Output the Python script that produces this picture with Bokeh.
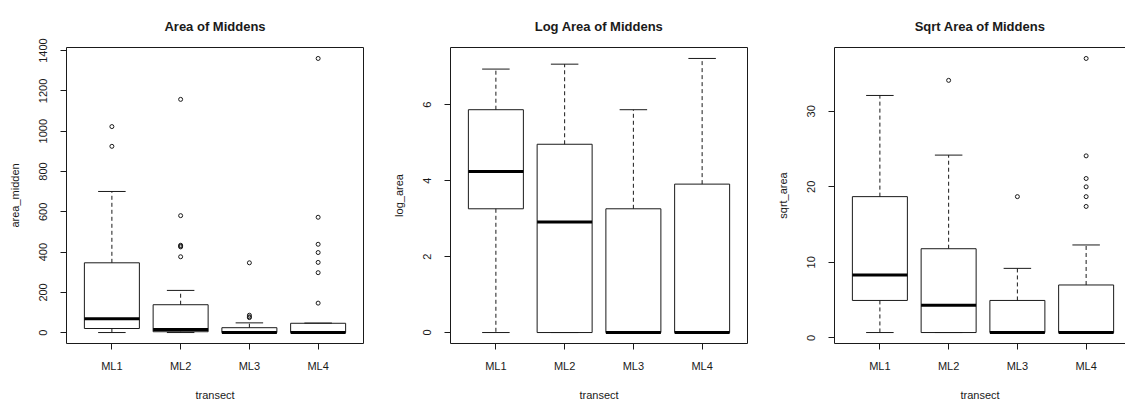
from bokeh.plotting import figure
from bokeh.layouts import row
from bokeh.models import FixedTicker, Range1d, LinearAxis
from bokeh.embed import file_html
from bokeh.resources import INLINE

transects = ["ML1", "ML2", "ML3", "ML4"]

# Area of middens (raw): whisker ends, quartiles, medians and outlying points
area_low = [1, 1, 1, 1]
area_q1 = [21, 5, 1, 1]
area_med = [69, 16, 1, 1]
area_q3 = [347, 139, 25, 47]
area_high = [701, 210, 49, 48]
area_out_group = [1, 1, 2, 2, 2, 2, 2, 2, 3, 3, 3, 3, 4, 4, 4, 4, 4, 4, 4]
area_out_value = [1023, 925, 1158, 581, 434, 430, 426, 377, 347, 87, 79, 75,
                  1361, 573, 439, 398, 349, 298, 147]
area_ticks = [0, 200, 400, 600, 800, 1000, 1200, 1400]

# Log area
log_low = [0, 0, 0, 0]
log_q1 = [3.26, 0, 0, 0]
log_med = [4.24, 2.91, 0, 0]
log_q3 = [5.87, 4.96, 3.26, 3.91]
log_high = [6.94, 7.07, 5.87, 7.22]
log_out_group = []
log_out_value = []
log_ticks = [0, 2, 4, 6]

# Square-root area
sqrt_low = [0.7, 0.7, 0.7, 0.7]
sqrt_q1 = [4.95, 0.7, 0.7, 0.7]
sqrt_med = [8.32, 4.3, 0.7, 0.7]
sqrt_q3 = [18.7, 11.8, 4.95, 7.0]
sqrt_high = [32.1, 24.2, 9.2, 12.3]
sqrt_out_group = [2, 3, 4, 4, 4, 4, 4, 4]
sqrt_out_value = [34.1, 18.7, 37.0, 24.1, 21.1, 20.0, 18.7, 17.4]
sqrt_ticks = [0, 10, 20, 30]

FONT = "Liberation Sans"
INK = "#1a1a1a"

PANEL_W = 384
BORDER_L = 66
BORDER_R = 21
BORDER_T = 47
BORDER_B = 57
HEIGHT = 403
X_LO, X_HI = 0.34, 4.66


def boxpanel(title, ylabel, low, q1, med, q3, high, out_g, out_v, ticks,
             width, boxed=True):
    frame_w = width - BORDER_L - (BORDER_R if boxed else 0)
    full_w = PANEL_W - BORDER_L - BORDER_R
    x_hi = X_LO + (X_HI - X_LO) * frame_w / full_w

    vals = list(low) + list(high) + list(out_v)
    lo, hi = min(vals), max(vals)
    pad = 0.04 * (hi - lo)

    p = figure(width=width, height=HEIGHT, output_backend="svg",
               toolbar_location=None,
               x_range=Range1d(X_LO, x_hi), y_range=Range1d(lo - pad, hi + pad),
               min_border_left=BORDER_L, min_border_right=BORDER_R if boxed else 0,
               min_border_top=BORDER_T, min_border_bottom=BORDER_B,
               title=title)
    p.grid.visible = False
    p.background_fill_color = "white"
    p.border_fill_color = "white"
    if boxed:
        p.outline_line_color = INK
        p.outline_line_width = 1
    else:
        p.outline_line_color = None

    p.title.align = "center"
    p.title.text_font = FONT
    p.title.text_font_size = "13px"
    p.title.text_font_style = "bold"
    p.title.text_color = INK
    p.title.standoff = 27

    xs = list(range(1, len(transects) + 1))
    for ax, tk in ((p.xaxis[0], xs), (p.yaxis[0], ticks)):
        ax.ticker = FixedTicker(ticks=tk)
        ax.major_tick_in = 0
        ax.major_tick_out = 6
        ax.minor_tick_line_color = None
        ax.major_tick_line_color = INK
        ax.axis_line_color = None if boxed else INK
        ax.major_label_text_font = FONT
        ax.major_label_text_font_size = "11px"
        ax.major_label_text_color = INK
        ax.axis_label_text_font = FONT
        ax.axis_label_text_font_size = "11px"
        ax.axis_label_text_font_style = "normal"
        ax.axis_label_text_color = INK
    p.xaxis.major_label_overrides = {i + 1: t for i, t in enumerate(transects)}
    p.xaxis.axis_label = "transect"
    p.xaxis.major_label_standoff = 10
    p.xaxis.axis_label_standoff = 14
    p.yaxis.axis_label = ylabel
    p.yaxis.major_label_orientation = "vertical"
    p.yaxis.major_label_standoff = 13
    p.yaxis.axis_label_standoff = 16

    if not boxed:
        top = LinearAxis(ticker=FixedTicker(ticks=[]), major_label_text_font_size="0px",
                         axis_line_color=INK, major_tick_line_color=None,
                         minor_tick_line_color=None)
        p.add_layout(top, "above")

    half = 0.4
    cap = 0.2
    p.quad(left=[x - half for x in xs], right=[x + half for x in xs],
           bottom=q1, top=q3, fill_color="white", line_color=INK, line_width=1)
    p.segment(x0=xs, x1=xs, y0=q3, y1=high, line_color=INK, line_width=1,
              line_dash="4 3")
    p.segment(x0=xs, x1=xs, y0=q1, y1=low, line_color=INK, line_width=1,
              line_dash="4 3")
    p.segment(x0=[x - cap for x in xs], x1=[x + cap for x in xs], y0=high, y1=high,
              line_color=INK, line_width=1)
    p.segment(x0=[x - cap for x in xs], x1=[x + cap for x in xs], y0=low, y1=low,
              line_color=INK, line_width=1)
    p.segment(x0=[x - half for x in xs], x1=[x + half for x in xs], y0=med, y1=med,
              line_color="black", line_width=3)
    if out_v:
        p.scatter(x=out_g, y=out_v, marker="circle", size=4, fill_color=None,
                  line_color=INK, line_width=1)
    return p


p1 = boxpanel("Area of Middens", "area_midden", area_low, area_q1, area_med,
              area_q3, area_high, area_out_group, area_out_value, area_ticks,
              PANEL_W)
p2 = boxpanel("Log Area of Middens", "log_area", log_low, log_q1, log_med,
              log_q3, log_high, log_out_group, log_out_value, log_ticks,
              PANEL_W)
p3 = boxpanel("Sqrt Area of Middens", "sqrt_area", sqrt_low, sqrt_q1, sqrt_med,
              sqrt_q3, sqrt_high, sqrt_out_group, sqrt_out_value, sqrt_ticks,
              1125 - 2 * PANEL_W, boxed=False)

layout = row(p1, p2, p3, spacing=0)
open("out.html", "w").write(file_html(layout, INLINE))
